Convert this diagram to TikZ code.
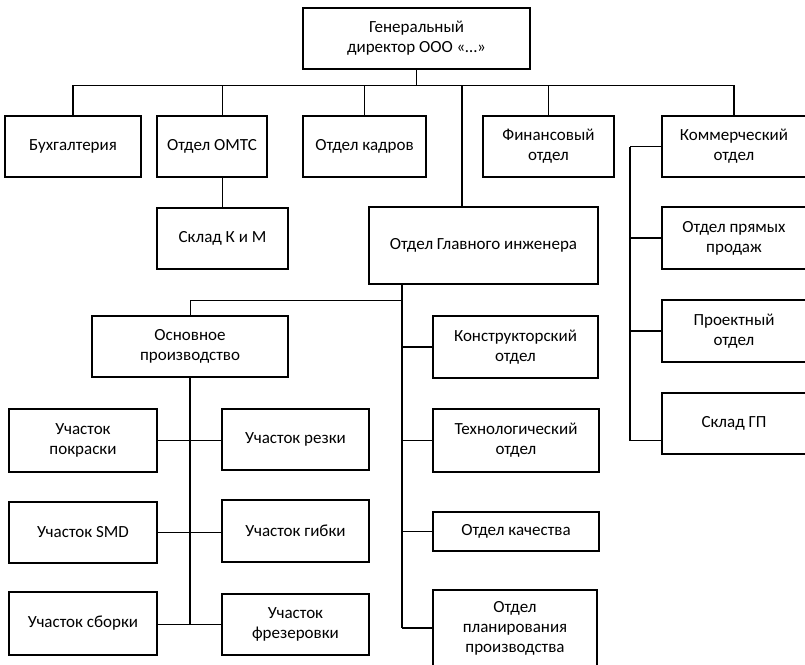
\documentclass[tikz,border=0pt]{standalone}
\usepackage{fontspec}
\setmainfont{Carlito}
\usetikzlibrary{positioning}

\begin{document}
\begin{tikzpicture}[x=1pt,y=-1pt,every node/.style={draw,line width=1.3pt,align=center,inner sep=0pt,font=\fontsize{17}{20}\selectfont},
  thinline/.style={line width=0.8pt},
  thickline/.style={line width=1.7pt}]
\useasboundingbox (0,0) rectangle (805,664);

\node[minimum width=227,minimum height=61] (dir) at (416.5,38.5) {Генеральный\\директор ООО «…»};

\node[minimum width=136,minimum height=61] (buh) at (73,146.5) {Бухгалтерия};
\node[minimum width=110,minimum height=61] (omts) at (212,146.5) {Отдел ОМТС};
\node[minimum width=123,minimum height=61] (kadr) at (364.5,146.5) {Отдел кадров};
\node[minimum width=131,minimum height=61] (fin) at (548.5,146.5) {Финансовый\\отдел};
\node[minimum width=144,minimum height=61] (komm) at (734,146.5) {Коммерческий\\отдел};

\node[minimum width=131,minimum height=61] (sklad) at (222.5,238.5) {Склад К и М};
\node[minimum width=229,minimum height=77] (glav) at (483.5,245.5) {Отдел Главного инженера};

\node[minimum width=144,minimum height=62] (prod) at (734,238) {Отдел прямых\\продаж};
\node[minimum width=144,minimum height=62] (proekt) at (734,331) {Проектный\\отдел};
\node[minimum width=144,minimum height=61] (sgp) at (734,423.5) {Склад ГП};

\node[minimum width=196,minimum height=61] (osn) at (190,346.5) {Основное\\производство};

\node[minimum width=165,minimum height=62] (konstr) at (515.5,347) {Конструкторский\\отдел};
\node[minimum width=166,minimum height=63] (tehn) at (516,440.5) {Технологический\\отдел};
\node[minimum width=166,minimum height=39] (kach) at (516,531.5) {Отдел качества};
\node[minimum width=164,minimum height=76] (plan) at (515,628) {Отдел\\планирования\\производства};

\node[minimum width=148,minimum height=63] (pokr) at (83,440.5) {Участок\\покраски};
\node[minimum width=148,minimum height=61] (smd) at (83,532.5) {Участок SMD};
\node[minimum width=148,minimum height=63] (sbor) at (83,623.5) {Участок сборки};
\node[minimum width=147,minimum height=61] (rez) at (295.5,439.5) {Участок резки};
\node[minimum width=147,minimum height=62] (gib) at (295.5,531) {Участок гибки};
\node[minimum width=147,minimum height=61] (frez) at (295.5,624.5) {Участок\\фрезеровки};

\coordinate (bus) at (0,85);
\coordinate (gl) at (462,85);
\coordinate (ob) at (0,300);
\coordinate (gv) at (402,0);
\coordinate (kv) at (630,0);

\draw[thinline] (dir.south) -- (dir.south |- bus);
\draw[thinline] (buh.north |- bus) -- (komm.north |- bus);
\foreach \n in {buh,kadr,fin,komm}
  \draw[thickline] (\n.north |- bus) -- (\n.north);
\draw[thickline] (sklad.north |- bus) -- (sklad.north |- omts.north);
\draw[thickline] (sklad.north |- omts.south) -- (sklad.north);
\draw[thickline] (gl) -- (gl |- glav.north);

\draw[thickline] (gv |- glav.south) -- (gv |- plan.west);
\foreach \n in {konstr,tehn,kach,plan}
  \draw[thickline] (gv |- \n.west) -- (\n.west);
\draw[thinline] (gv |- ob) -- (osn.north |- ob) -- (osn.north);

\draw[thickline] (osn.south) -- (osn.south |- frez.west);
\draw[thinline] (pokr.east) -- (pokr.east -| rez.west);
\draw[thinline] (smd.east) -- (smd.east -| gib.west);
\draw[thinline] (sbor.east |- frez.west) -- (frez.west);

\draw[thickline] (kv |- komm.west) -- (kv |- tehn.west);
\foreach \n in {komm,prod,proekt}
  \draw[thickline] (kv |- \n.west) -- (\n.west);
\draw[thickline] (kv |- tehn.west) -- (sgp.west |- tehn.west);
\end{tikzpicture}
\end{document}
